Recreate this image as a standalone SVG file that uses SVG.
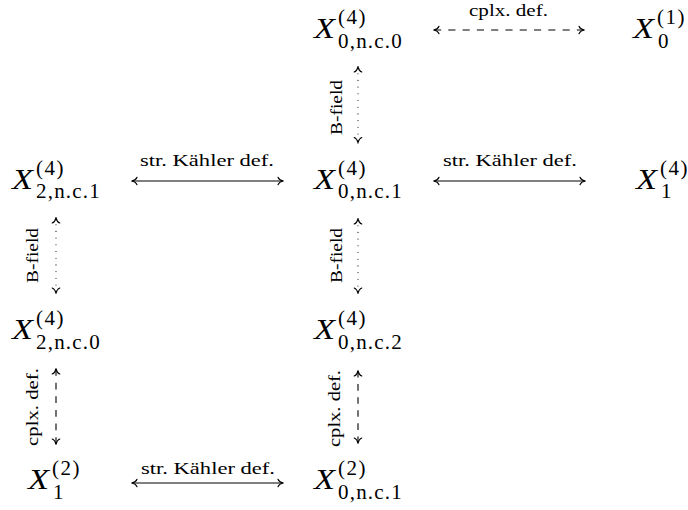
<svg xmlns="http://www.w3.org/2000/svg" width="688" height="510" viewBox="0 0 688 510">
<style>
.m{font-family:"Liberation Serif",serif;font-style:italic;font-size:30px;fill:#000}
.s{font-family:"Liberation Serif",serif;font-size:21px;fill:#000}
.sp{letter-spacing:1.5px}
.sb{letter-spacing:1.2px}
.l{font-family:"Liberation Serif",serif;font-size:17.5px;fill:#000}
.a{fill:none;stroke:#000;stroke-width:1.1;marker-start:url(#ah);marker-end:url(#ah)}
.dash{stroke-dasharray:1 1}
.dot{stroke-dasharray:0 6.7;stroke-linecap:round}
</style>
<defs>
<marker id="ah" viewBox="-6 -5 7 10" refX="0" refY="0" markerWidth="7" markerHeight="10" markerUnits="userSpaceOnUse" orient="auto-start-reverse">
<path d="M-5,-3.8 C-4.2,-1.6 -1.5,-0.4 0,0 C-1.5,0.4 -4.2,1.6 -5,3.8" fill="none" stroke="#000" stroke-width="1.1" stroke-linecap="round"/>
</marker>
</defs>
<rect width="688" height="510" fill="#fff"/>
<g id="connectors">
<path class="a dash" d="M434,30 H584" pathLength="21"/>
<text class="l" x="469" y="15.5" style="font-size:17px" textLength="79" lengthAdjust="spacingAndGlyphs">cplx. def.</text>
<path class="a" d="M132,181 H283"/>
<text class="l" x="140" y="165.5" textLength="134" lengthAdjust="spacingAndGlyphs">str. Kähler def.</text>
<path class="a" d="M434,181 H585"/>
<text class="l" x="443" y="166" textLength="134" lengthAdjust="spacingAndGlyphs">str. Kähler def.</text>
<path class="a" d="M132,483 H283"/>
<text class="l" x="141" y="474" textLength="134" lengthAdjust="spacingAndGlyphs">str. Kähler def.</text>
<path class="a dot" d="M358,67 V142.5"/>
<text class="l" transform="translate(342,135) rotate(-90)" textLength="55" lengthAdjust="spacingAndGlyphs">B-field</text>
<path class="a dot" d="M56,218 V293"/>
<text class="l" transform="translate(37.5,283) rotate(-90)" textLength="55" lengthAdjust="spacingAndGlyphs">B-field</text>
<path class="a dot" d="M358,219 V293"/>
<text class="l" transform="translate(342,283) rotate(-90)" textLength="55" lengthAdjust="spacingAndGlyphs">B-field</text>
<path class="a dash" d="M56,369 V444" pathLength="11"/>
<text class="l" transform="translate(38,446) rotate(-90)" textLength="78" lengthAdjust="spacingAndGlyphs">cplx. def.</text>
<path class="a dash" d="M358,371 V443" pathLength="11"/>
<text class="l" transform="translate(340,447) rotate(-90)" textLength="77" lengthAdjust="spacingAndGlyphs">cplx. def.</text>
</g>
<g id="n_0nc0">
<text class="m" x="314" y="38" textLength="21" lengthAdjust="spacingAndGlyphs">X</text>
<text class="s"><tspan class="sp" x="338" y="24">(4)</tspan><tspan class="sb" x="338" y="47.5">0,n.c.0</tspan></text>
</g>
<g id="n_X0_1">
<text class="m" x="633" y="38" textLength="21" lengthAdjust="spacingAndGlyphs">X</text>
<text class="s"><tspan class="sp" x="657" y="24">(1)</tspan><tspan x="658" y="47.5">0</tspan></text>
</g>
<g id="n_2nc1">
<text class="m" x="12" y="188.5" textLength="21" lengthAdjust="spacingAndGlyphs">X</text>
<text class="s"><tspan class="sp" x="36" y="174.5">(4)</tspan><tspan class="sb" x="36" y="198">2,n.c.1</tspan></text>
</g>
<g id="n_0nc1">
<text class="m" x="314" y="188.5" textLength="21" lengthAdjust="spacingAndGlyphs">X</text>
<text class="s"><tspan class="sp" x="338" y="174.5">(4)</tspan><tspan class="sb" x="338" y="198">0,n.c.1</tspan></text>
</g>
<g id="n_X1_4">
<text class="m" x="636" y="188.5" textLength="21" lengthAdjust="spacingAndGlyphs">X</text>
<text class="s"><tspan class="sp" x="660" y="174.5">(4)</tspan><tspan x="661" y="198">1</tspan></text>
</g>
<g id="n_2nc0">
<text class="m" x="12" y="339" textLength="21" lengthAdjust="spacingAndGlyphs">X</text>
<text class="s"><tspan class="sp" x="36" y="325">(4)</tspan><tspan class="sb" x="36" y="348.5">2,n.c.0</tspan></text>
</g>
<g id="n_0nc2">
<text class="m" x="314" y="339" textLength="21" lengthAdjust="spacingAndGlyphs">X</text>
<text class="s"><tspan class="sp" x="338" y="325">(4)</tspan><tspan class="sb" x="338" y="348.5">0,n.c.2</tspan></text>
</g>
<g id="n_X1_2">
<text class="m" x="28" y="489" textLength="21" lengthAdjust="spacingAndGlyphs">X</text>
<text class="s"><tspan class="sp" x="52" y="475">(2)</tspan><tspan x="53" y="498.5">1</tspan></text>
</g>
<g id="n_0nc1_2">
<text class="m" x="314" y="489" textLength="21" lengthAdjust="spacingAndGlyphs">X</text>
<text class="s"><tspan class="sp" x="338" y="475">(2)</tspan><tspan class="sb" x="338" y="498.5">0,n.c.1</tspan></text>
</g>
</svg>
